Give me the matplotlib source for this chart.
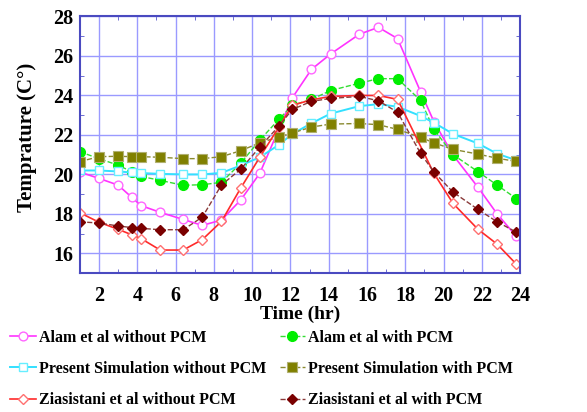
import matplotlib
matplotlib.use("Agg")
import matplotlib.pyplot as plt
from matplotlib.ticker import MultipleLocator

plt.rcParams['font.family'] = ['Liberation Serif', 'DejaVu Serif']
plt.rcParams['font.weight'] = 'bold'

# hour of day for each reading
hours = [1.0, 2.0, 3.0, 3.7, 4.2, 5.2, 6.4, 7.4, 8.4, 9.4, 10.4, 11.4,
         12.1, 13.1, 14.1, 15.6, 16.6, 17.6, 18.8, 19.5, 20.5, 21.8, 22.8, 23.8]
# the two "without PCM" reference curves skip one reading each
alam_no_hours = [h for h in hours if h != 11.4]
zia_no_hours = [h for h in hours if h != 18.8]

alam_no_pcm = [20.12, 19.8, 19.46, 18.85, 18.42, 18.08, 17.72, 17.42, 17.69, 18.7, 20.05,
               23.88, 25.32, 26.1, 27.1, 27.45, 26.88, 24.19, 22.67, 20.98, 19.35, 18.0, 16.87]
alam_pcm = [21.15, 20.8, 20.47, 20.14, 19.9, 19.7, 19.45, 19.48, 19.6, 20.56, 21.74, 22.79,
            23.5, 23.8, 24.25, 24.62, 24.85, 24.85, 23.75, 22.28, 21.0, 20.14, 19.46, 18.78]
sim_no_pcm = [20.2, 20.2, 20.15, 20.1, 20.07, 20.03, 20.0, 20.0, 20.08, 20.45, 20.87, 21.5,
              22.05, 22.59, 23.08, 23.46, 23.56, 23.43, 22.96, 22.62, 22.05, 21.57, 21.05, 20.72]
sim_pcm = [20.65, 20.9, 20.92, 20.9, 20.9, 20.87, 20.8, 20.8, 20.9, 21.2, 21.6, 21.9,
           22.1, 22.4, 22.55, 22.58, 22.52, 22.28, 21.88, 21.6, 21.27, 21.03, 20.82, 20.66]
zia_no_pcm = [18.06, 17.58, 17.22, 16.95, 16.75, 16.17, 16.17, 16.7, 17.62, 19.3, 20.87, 22.4,
              23.5, 23.78, 23.95, 24.0, 24.0, 23.8, 20.05, 18.53, 17.22, 16.47, 15.46]
zia_pcm = [17.6, 17.54, 17.39, 17.31, 17.27, 17.2, 17.2, 17.84, 19.47, 20.26, 21.38, 22.45,
           23.29, 23.7, 23.85, 23.95, 23.73, 23.15, 21.07, 20.12, 19.1, 18.23, 17.6, 17.08]

fig = plt.figure(figsize=(5.87, 4.12), dpi=100)
ax = fig.add_axes([0.136, 0.337, 0.750, 0.623])

l1, = ax.plot(alam_no_hours, alam_no_pcm, '-', color='#ff33ff', lw=1.2, marker='o', ms=6.3,
              mfc='white', mec='#ff66ff', mew=1.0, label='Alam et al without PCM')
l4, = ax.plot(hours, alam_pcm, '--', color='#33dd33', lw=1.0, marker='o', ms=7,
              mfc='#00ee00', mec='#00ee00', label='Alam et al with PCM')
l2, = ax.plot(hours, sim_no_pcm, '-', color='#33e0ff', lw=1.4, marker='s', ms=6,
              mfc='white', mec='#66eeff', mew=1.0, label='Present Simulation without PCM')
l5, = ax.plot(hours, sim_pcm, '--', color='#8a8a30', lw=1.0, marker='s', ms=6.5,
              mfc='#808000', mec='#b0b070', mew=0.8, label='Present Simulation with PCM')
l3, = ax.plot(zia_no_hours, zia_no_pcm, '-', color='#ff2a2a', lw=1.2, marker='D', ms=5.2,
              mfc='white', mec='#ff7070', mew=1.0, label='Ziasistani et al without PCM')
l6, = ax.plot(hours, zia_pcm, '--', color='#8a3a3a', lw=1.0, marker='D', ms=5.5,
              mfc='#7a0000', mec='#7a0000', label='Ziasistani et al with PCM')

ax.set_xlim(1, 24)
ax.set_ylim(15, 28)
ax.xaxis.set_major_locator(MultipleLocator(2))
ax.yaxis.set_major_locator(MultipleLocator(2))
ax.xaxis.set_minor_locator(MultipleLocator(1))
ax.yaxis.set_minor_locator(MultipleLocator(1))
ax.grid(True, which='major', color='#9a9aff', lw=1.0)
ax.set_axisbelow(True)
ax.tick_params(which='both', direction='in', top=True, right=True, colors='#5555cc',
               labelcolor='black', labelsize=14.5)
ax.tick_params(which='major', length=0)
ax.tick_params(axis='x', which='major', pad=9)
ax.tick_params(axis='y', which='major', pad=5)
ax.tick_params(which='minor', length=3)
for s in ax.spines.values():
    s.set_color('#4a4ac0')
    s.set_linewidth(1.5)

ax.set_xlabel('Time (hr)', fontsize=14, fontweight='bold', labelpad=0)
ax.set_ylabel('Temprature (C°)', fontsize=15, fontweight='bold')
ax.yaxis.set_label_coords(-0.098, 0.53)

fig.legend(handles=[l1, l2, l3, l4, l5, l6], ncol=2, loc='upper left',
           bbox_to_anchor=(0.017, 0.2), frameon=False, fontsize=11.5,
           handlelength=1.6, handletextpad=0.2, columnspacing=0.85,
           labelspacing=0.96, borderpad=0, borderaxespad=0)

fig.savefig('out.png', dpi=100)
